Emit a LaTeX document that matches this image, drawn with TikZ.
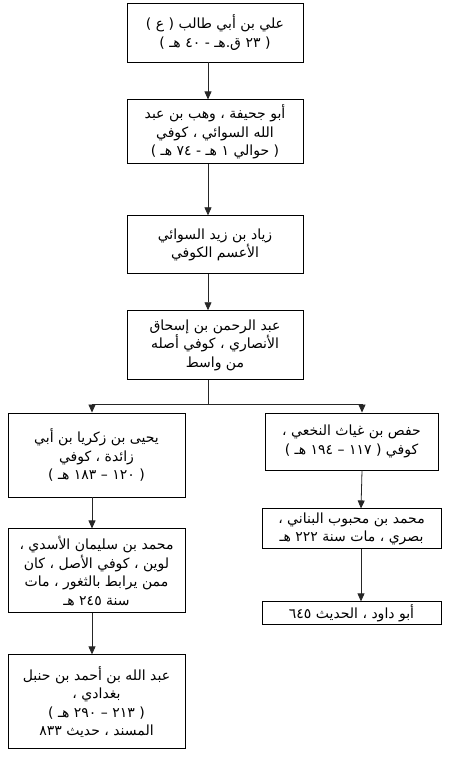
\documentclass[tikz,border=0pt]{standalone}
\usepackage{fontspec}
\newfontfamily\arabicfont[Script=Arabic]{DejaVu Sans}
\TeXXeTstate=1
\usepackage{tikz}
\usetikzlibrary{arrows.meta, positioning}

\newcommand{\arline}[1]{\beginR #1\endR}

\begin{document}
\begin{tikzpicture}[
    x=1pt, y=1pt,
    person/.style={
        draw,
        line width=0.9pt,
        align=center,
        font={\arabicfont\fontsize{14}{18.5}\selectfont},
        inner sep=2pt
    },
    link/.style={
        draw=black!85,
        line width=0.8pt
    },
    arrow/.style={
        link,
        -{Triangle[width=7pt,length=8pt]}
    }
]
\useasboundingbox (0,0) rectangle (450,-759);

% main chain
\node[person, minimum width=176pt, minimum height=59pt] (ali) at (215,-32.5)
{\arline{علي بن أبي طالب ( ع )}\\
 \arline{( ٢٣ ق.هـ - ٤٠ هـ )}};

\node[person, minimum width=176pt, minimum height=64pt, below=37pt of ali] (abujuhayfa)
{\arline{أبو جحيفة ، وهب بن عبد}\\
 \arline{الله السوائي ، كوفي}\\
 \arline{( حوالي ١ هـ - ٧٤ هـ )}};

\node[person, minimum width=176pt, minimum height=58pt, below=51pt of abujuhayfa] (ziyad)
{\arline{زياد بن زيد السوائي}\\
 \arline{الأعسم الكوفي}};

\node[person, minimum width=176pt, minimum height=69pt, below=36pt of ziyad] (abdulrahman)
{\arline{عبد الرحمن بن إسحاق}\\
 \arline{الأنصاري ، كوفي أصله}\\
 \arline{من واسط}};

% left branch
\node[person, minimum width=177pt, minimum height=84pt] (yahya) at (96.5,-455)
{\arline{يحيى بن زكريا بن أبي}\\
 \arline{زائدة ، كوفي}\\
 \arline{( ١٢٠ – ١٨٣ هـ )}};

\node[person, minimum width=177pt, minimum height=84pt, below=31pt of yahya] (lowayn)
{\arline{محمد بن سليمان الأسدي ،}\\
 \arline{لوين ، كوفي الأصل ، كان}\\
 \arline{ممن يرابط بالثغور ، مات}\\
 \arline{سنة ٢٤٥ هـ}};

\node[person, minimum width=177pt, minimum height=94pt, below=41pt of lowayn] (abdallah)
{\arline{عبد الله بن أحمد بن حنبل}\\
 \arline{بغدادي ،}\\
 \arline{( ٢١٣ – ٢٩٠ هـ )}\\
 \arline{المسند ، حديث ٨٣٣}};

% right branch
\node[person, minimum width=173pt, minimum height=57pt] (hafs) at (351.5,-441.5)
{\arline{حفص بن غياث النخعي ،}\\
 \arline{كوفي ( ١١٧ – ١٩٤ هـ )}};

\node[person, minimum width=179pt, minimum height=40pt, below=38pt of hafs] (mahbub)
{\arline{محمد بن محبوب البناني ،}\\
 \arline{بصري ، مات سنة ٢٢٢ هـ}};

\node[person, minimum width=179pt, minimum height=23pt, below=52pt of mahbub] (abudawud)
{\arline{أبو داود ، الحديث ٦٤٥}};

% connectors
\draw[arrow] ([xshift=-7pt]ali.south) -- ([xshift=-7pt]abujuhayfa.north);
\draw[arrow] ([xshift=-7pt]abujuhayfa.south) -- ([xshift=-7pt]ziyad.north);
\draw[arrow] ([xshift=-7pt]ziyad.south) -- ([xshift=-7pt]abdulrahman.north);

\draw[link] ([xshift=-7pt]abdulrahman.south) -- ++(0,-24) coordinate (split);
\draw[arrow] (split) -| ([xshift=-4.5pt]yahya.north);
\draw[arrow] (split) -| ([xshift=10.5pt]hafs.north);

\draw[arrow] ([xshift=-4.5pt]yahya.south) -- ([xshift=-4.5pt]lowayn.north);
\draw[arrow] ([xshift=-4.5pt]lowayn.south) -- ([xshift=-4.5pt]abdallah.north);

\draw[arrow] ([xshift=10.5pt]hafs.south) -- ([xshift=9.5pt]mahbub.north);
\draw[arrow] ([xshift=9.5pt]mahbub.south) -- ([xshift=9.5pt]abudawud.north);

\end{tikzpicture}
\end{document}
